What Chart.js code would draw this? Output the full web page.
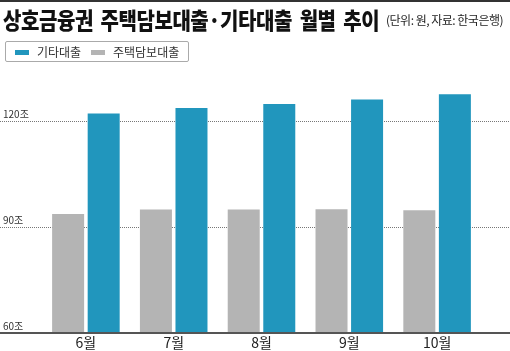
<!DOCTYPE html>
<html>
<head>
<meta charset="utf-8">
<script src="https://cdn.jsdelivr.net/npm/chart.js@4.4.1/dist/chart.umd.min.js"></script>
<style>
  body { margin: 0; background: #fff; }
  #wrap { position: relative; width: 510px; height: 351px; overflow: hidden; font-family: "Noto Sans CJK KR", sans-serif; }
  #topline { position: absolute; left: 0; top: 0; width: 510px; height: 2px; background: #333; }
  #title { position: absolute; left: 3px; top: 2px; font-size: 23px; font-weight: 900; color: #111; white-space: nowrap;
           transform: scaleX(0.87); transform-origin: left top; letter-spacing: -0.5px; word-spacing: 4px; }
  #unit { position: absolute; left: 386px; top: 11px; font-size: 12px; color: #222; white-space: nowrap;
          letter-spacing: -0.5px; }
  #legend { position: absolute; left: 5px; top: 41px; width: 182px; height: 19px; border: 1px solid #aaa; border-radius: 2px; }
  .item { position: absolute; top: 1px; font-size: 12px; color: #333; white-space: nowrap; }
  .sw { position: absolute; top: 8px; width: 14px; height: 5px; }
  canvas { position: absolute; left: 0; top: 0; }
</style>
</head>
<body>
<div id="wrap">
  <canvas id="mychart" width="510" height="351"></canvas>
  <div id="topline"></div>
  <div id="title">상호금융권 주택담보대출·기타대출 월별 추이</div>
  <div id="unit">(단위: 원, 자료: 한국은행)</div>
  <div id="legend"></div>
</div>
<script>
var months = ['6월', '7월', '8월', '9월', '10월']
var mortgage = [93.7, 95.0, 95.0, 95.1, 94.8]
var otherLoans = [122.2, 123.8, 124.9, 126.2, 127.7]
var yTicks = [60, 90, 120]

var blue = '#2196bd'
var gray = '#b4b4b4'

// legend (기타대출 first like the original)
var legend = document.getElementById('legend')
var items = [{ label: '기타대출', color: blue, sx: 9, tx: 31 }, { label: '주택담보대출', color: gray, sx: 85, tx: 107 }]
items.forEach(function (it) {
  var s = document.createElement('div')
  s.className = 'sw'
  s.style.left = it.sx + 'px'
  s.style.background = it.color
  legend.appendChild(s)
  var t = document.createElement('div')
  t.className = 'item'
  t.style.left = it.tx + 'px'
  t.textContent = it.label
  legend.appendChild(t)
})

// dotted grid lines across the whole width, solid base line
var fullGrid = {
  id: 'fullGrid',
  beforeDatasetsDraw: function (chart) {
    var ctx = chart.ctx, y = chart.scales.y
    ctx.save()
    ctx.strokeStyle = '#777'
    ctx.lineWidth = 1
    ctx.setLineDash([1, 1])
    yTicks.forEach(function (v) {
      if (v === y.min) return
      var py = Math.round(y.getPixelForValue(v)) + 0.5
      ctx.beginPath()
      ctx.moveTo(0, py)
      ctx.lineTo(chart.width, py)
      ctx.stroke()
    })
    ctx.restore()
  },
  afterDatasetsDraw: function (chart) {
    var ctx = chart.ctx, y = chart.scales.y
    var py = y.getPixelForValue(y.min)
    ctx.save()
    ctx.fillStyle = '#555'
    ctx.fillRect(0, py - 1, chart.width, 2)
    ctx.restore()
  }
}

var chart = new Chart(document.getElementById('mychart').getContext('2d'), {
  type: 'bar',
  data: {
    labels: months,
    datasets: [
      { label: '주택담보대출', data: mortgage, backgroundColor: gray },
      { label: '기타대출', data: otherLoans, backgroundColor: blue }
    ]
  },
  options: {
    responsive: false,
    animation: false,
    layout: { padding: { top: 79, left: 3, right: 29, bottom: 0 } },
    plugins: { legend: { display: false }, tooltip: { enabled: false } },
    datasets: { bar: { categoryPercentage: 0.81, barPercentage: 0.9 } },
    scales: {
      x: {
        grid: { display: false, drawTicks: false },
        border: { display: false },
        ticks: { color: '#222', padding: 1, font: { family: 'Noto Sans CJK KR', size: 14 } },
        afterFit: function (s) { s.height = 18 }
      },
      y: {
        min: 60,
        max: 132,
        grid: { display: false, drawTicks: false },
        border: { display: false },
        afterBuildTicks: function (s) { s.ticks = yTicks.map(function (v) { return { value: v } }) },
        afterFit: function (s) { s.width = 39 },
        ticks: {
          crossAlign: 'far',
          labelOffset: -7,
          color: '#333',
          font: { family: 'Noto Sans CJK KR', size: 10 },
          callback: function (v) { return v + '조' }
        }
      }
    }
  },
  plugins: [fullGrid]
})
</script>
</body>
</html>
